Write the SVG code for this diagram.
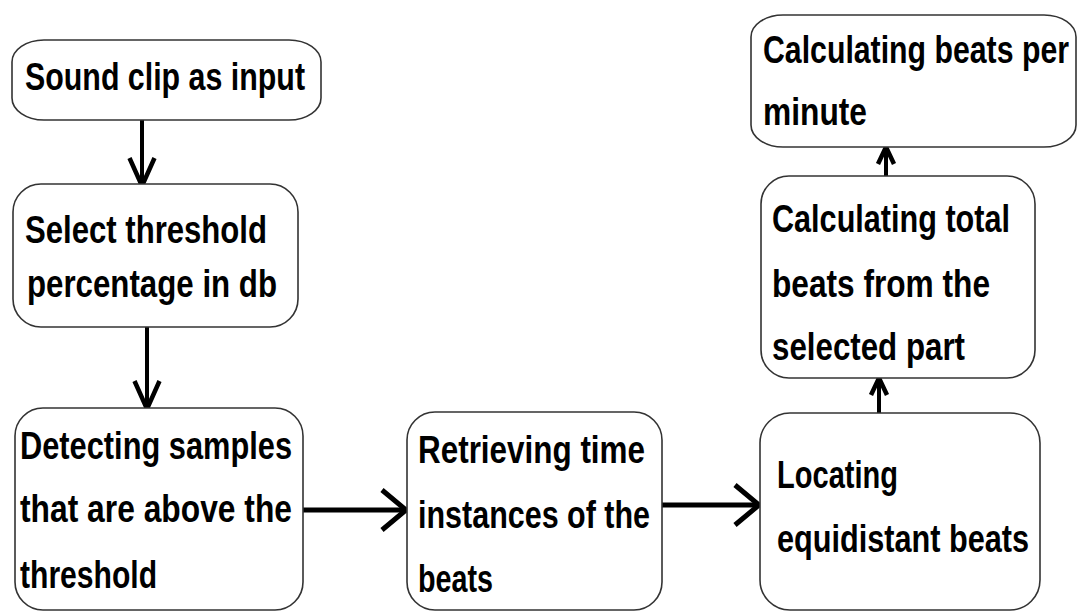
<svg xmlns="http://www.w3.org/2000/svg" width="1079" height="611" viewBox="0 0 1079 611">
<style>
.box{fill:#fff;stroke:#333;stroke-width:1.6}
.t{font-family:"Liberation Sans",Arial,sans-serif;font-weight:bold;font-size:39px;fill:#000}
.c{fill:none;stroke:#000;stroke-linecap:butt}
.h{stroke-width:5}
.v{stroke-width:4}
</style>
<defs>
<marker id="ah" markerUnits="userSpaceOnUse" markerWidth="60" markerHeight="60" refX="0" refY="0" orient="auto" overflow="visible">
<path d="M-24,-20 L0,0 L-24,20" fill="none" stroke="#000" stroke-width="5"/>
</marker>
<marker id="av" markerUnits="userSpaceOnUse" markerWidth="60" markerHeight="60" refX="0" refY="0" orient="auto" overflow="visible">
<path d="M-28,-12.5 L0,0 L-28,12.5" fill="none" stroke="#000" stroke-width="4.5"/>
</marker>
<marker id="as" markerUnits="userSpaceOnUse" markerWidth="40" markerHeight="40" refX="0" refY="0" orient="auto" overflow="visible">
<path d="M-17,-8 L0,0 L-17,8" fill="none" stroke="#000" stroke-width="4.5"/>
</marker>
</defs>
<rect width="1079" height="611" fill="#fff"/>
<g id="connectors">
<path class="c v" d="M142,120 L142,186" marker-end="url(#av)"/>
<path class="c v" d="M147,327 L147,409" marker-end="url(#av)"/>
<path class="c h" d="M303,510 L406,510" marker-end="url(#ah)"/>
<path class="c h" d="M662,505 L759,505" marker-end="url(#ah)"/>
<path class="c v" d="M879,413 L879,378" marker-end="url(#as)"/>
<path class="c v" d="M886,176 L886,147" marker-end="url(#as)"/>
</g>
<g id="n1">
<rect class="box" x="12" y="40" width="309" height="80" rx="32" ry="22"/>
<text class="t" x="25" y="90" textLength="280" lengthAdjust="spacingAndGlyphs">Sound clip as input</text>
</g>
<g id="n2">
<rect class="box" x="13" y="184" width="285" height="143" rx="28"/>
<text class="t" x="25" y="243" textLength="242" lengthAdjust="spacingAndGlyphs">Select threshold</text>
<text class="t" x="27" y="297" textLength="250" lengthAdjust="spacingAndGlyphs">percentage in db</text>
</g>
<g id="n3">
<rect class="box" x="15" y="408" width="288" height="202" rx="28"/>
<text class="t" x="20" y="459" textLength="272" lengthAdjust="spacingAndGlyphs">Detecting samples</text>
<text class="t" x="20" y="522" textLength="272" lengthAdjust="spacingAndGlyphs">that are above the</text>
<text class="t" x="20" y="588" textLength="137" lengthAdjust="spacingAndGlyphs">threshold</text>
</g>
<g id="n4">
<rect class="box" x="407" y="412" width="255" height="198" rx="28"/>
<text class="t" x="418" y="463" textLength="227" lengthAdjust="spacingAndGlyphs">Retrieving time</text>
<text class="t" x="418" y="528" textLength="232" lengthAdjust="spacingAndGlyphs">instances of the</text>
<text class="t" x="418" y="592" textLength="75" lengthAdjust="spacingAndGlyphs">beats</text>
</g>
<g id="n5">
<rect class="box" x="760" y="413" width="280" height="197" rx="30"/>
<text class="t" x="777" y="488" textLength="121" lengthAdjust="spacingAndGlyphs">Locating</text>
<text class="t" x="777" y="552" textLength="252" lengthAdjust="spacingAndGlyphs">equidistant beats</text>
</g>
<g id="n6">
<rect class="box" x="761" y="176" width="274" height="202" rx="28"/>
<text class="t" x="772" y="232" textLength="238" lengthAdjust="spacingAndGlyphs">Calculating total</text>
<text class="t" x="772" y="297" textLength="218" lengthAdjust="spacingAndGlyphs">beats from the</text>
<text class="t" x="772" y="360" textLength="193" lengthAdjust="spacingAndGlyphs">selected part</text>
</g>
<g id="n7">
<rect class="box" x="751" y="15" width="325" height="132" rx="32" ry="22"/>
<text class="t" x="763" y="63" textLength="306" lengthAdjust="spacingAndGlyphs">Calculating beats per</text>
<text class="t" x="763" y="125" textLength="104" lengthAdjust="spacingAndGlyphs">minute</text>
</g>
</svg>
